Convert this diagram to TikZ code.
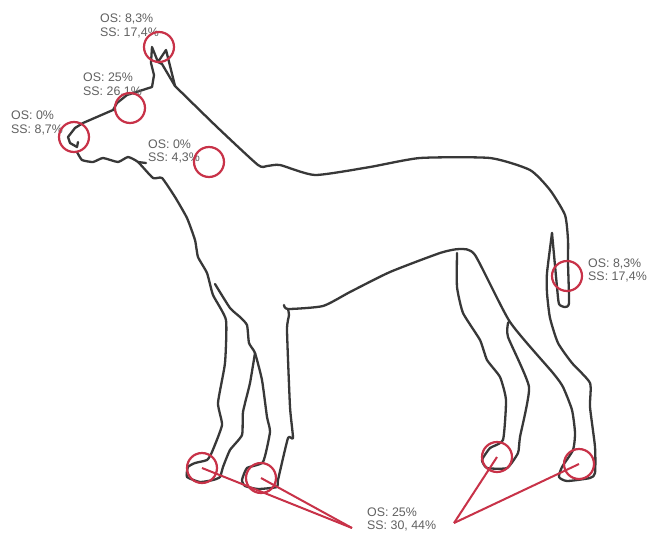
\documentclass[tikz,border=0pt]{standalone}
\usepackage{fontspec}
\setmainfont{Liberation Sans}
\tikzset{
  dogline/.style={draw=black!78,line width=2.3pt,line join=round,line cap=round},
  ring/.style={circle,draw=ringred,line width=2.2pt,minimum size=30pt,inner sep=0pt,outer sep=0pt},
  pointer/.style={draw=ringred,line width=2pt},
  lab/.style={anchor=west,align=left,text=black!62,font=\fontsize{12.4pt}{13.2pt}\selectfont,inner sep=0pt}
}
\definecolor{ringred}{RGB}{200,50,72}
\begin{document}
\begin{tikzpicture}[x=1pt,y=-1pt]
\useasboundingbox (0,0) rectangle (647,533);
\fill[white] (0,0) rectangle (647,533);
% head and ears
\draw[dogline] (78,142) -- (77,147) -- (70,143) -- (68,137) -- (75,128) -- (83,123) -- (113,110) -- (117,103) -- (127,95) -- (152,87) -- (154,75) -- (151,63) -- (152,47) -- (158,62) -- (166,50) -- (175,86);
\draw[dogline] (158,62) -- (162,64) -- (175,86);
% neck, back, outer tail
\draw[dogline] plot[smooth,tension=0.35] coordinates {(175,86) (217,127) (258,165) (267,166) (280,165) (315,175) (370,167) (420,158) (490,158) (530,170) (550,190) (565,215) (568,240) (568,263) (569,303) (565,307) (559,304) (557,287) (552,233)};
% tail inner, hind leg
\draw[dogline] plot[smooth,tension=0.35] coordinates {(552,233) (547,273) (547,293) (550,318) (558,343) (572,363) (590,383) (590,407) (595,447) (595,473) (590,478) (567,481) (559,477) (562,467) (573,450) (575,433) (572,410) (563,387) (553,373) (510,322) (475,255) (460,249) (440,253) (390,272) (350,292) (323,306) (288,309) (284,305)};
% near front leg
\draw[dogline] plot[smooth,tension=0.3] coordinates {(288,309) (289,315) (287,330) (290,407) (293,438) (288,438) (278,480) (277,487) (258,489) (245,486) (242,480) (247,468) (263,462) (270,432) (267,417) (262,380) (255,353) (249,343) (247,325) (240,317) (230,308) (215,284)};
% far front leg and chest
\draw[dogline] plot[smooth,tension=0.3] coordinates {(255,353) (250,383) (243,412) (242,435) (230,450) (223,467) (220,477) (213,480) (200,482) (187,477) (188,467) (195,463) (207,460) (212,452) (222,425) (218,403) (225,363) (226,320) (213,295) (207,273) (198,257) (195,240) (187,218) (175,197) (162,178) (153,178) (138,162) (128,157) (118,162) (103,158) (93,162) (82,160) (77,152)};
\draw[dogline] (138,162) -- (146,163);
% far hind leg
\draw[dogline] plot[smooth,tension=0.3] coordinates {(457,253) (457,287) (463,313) (480,340) (487,360) (500,377) (506,400) (503,440) (490,448) (482,460) (487,468) (507,468) (518,453) (520,437) (529,387) (508,337) (508,323) (510,322)};
% labels
\node[lab] (t1) at (100,26) {OS: 8,3\%\\SS: 17,4\%};
\node[lab] (t2) at (83,85) {OS: 25\%\\SS: 26,1\%};
\node[lab] (t3) at (11,123) {OS: 0\%\\SS: 8,7\%};
\node[lab] (t4) at (148,151.5) {OS: 0\%\\SS: 4,3\%};
\node[lab] (t5) at (588,270.5) {OS: 8,3\%\\SS: 17,4\%};
\node[lab] (t6) at (367,519.5) {OS: 25\%\\SS: 30, 44\%};
% rings
\node[ring] (r1) at (159,47) {};
\node[ring] (r2) at (130,108) {};
\node[ring] (r3) at (74,137) {};
\node[ring] (r4) at (209,162) {};
\node[ring] (r5) at (567,276) {};
\node[ring] (r6) at (202,468) {};
\node[ring] (r7) at (261,478) {};
\node[ring] (r8) at (497,457) {};
\node[ring] (r9) at (579,464) {};
% pointers
\coordinate (apexL) at (352,528);
\coordinate (apexR) at (454,523);
\draw[pointer] (r6.center) -- (apexL);
\draw[pointer] (r7.center) -- (apexL);
\draw[pointer] (r8.center) -- (apexR);
\draw[pointer] (r9.center) -- (apexR);
\end{tikzpicture}
\end{document}
